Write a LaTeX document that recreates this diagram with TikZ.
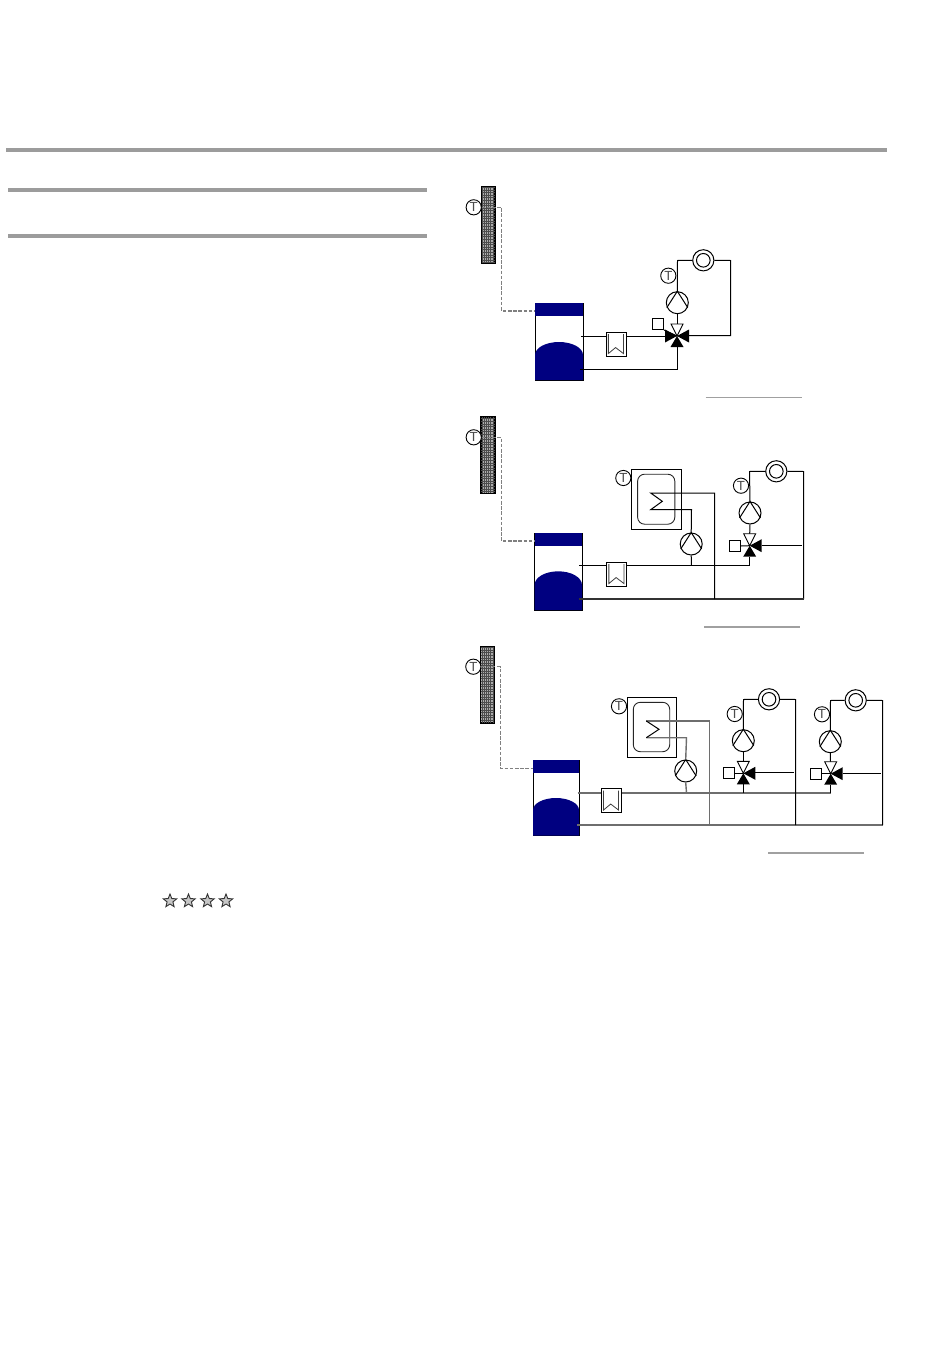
\documentclass[tikz,border=0pt]{standalone}
\usepackage{fontspec}
\setmainfont{Liberation Sans}
\usetikzlibrary{shapes.geometric}
\definecolor{tanknavy}{HTML}{000080}
\definecolor{rulegray}{HTML}{9C9C9C}
\definecolor{pipegray}{HTML}{808080}
\definecolor{softgray}{HTML}{6E6E6E}
\tikzset{
  x=0.5pt,y=-0.5pt,
  pipe/.style={draw=black,line width=0.5pt},
  softpipe/.style={draw=softgray,line width=0.7pt},
  link/.style={draw=pipegray,line width=0.6pt,dash pattern=on 1.8pt off 0.8pt},
  headrule/.style={draw=rulegray,line width=2pt},
  caprule/.style={draw=pipegray!75,line width=0.6pt},
  sensor/.style={circle,draw=black,fill=white,line width=0.45pt,minimum size=7.6pt,inner sep=0pt,text=black!70,font=\fontsize{6.6}{6.6}\selectfont},
  pumpsym/.style={circle,draw=black,fill=white,line width=0.5pt,minimum size=11pt,inner sep=0pt},
  radsym/.style={circle,draw=black,fill=white,line width=0.5pt,minimum size=10.6pt,inner sep=0pt},
  actuator/.style={rectangle,draw=black,fill=white,line width=0.45pt,minimum size=5.6pt,inner sep=0pt},
  hxbox/.style={rectangle,draw=black,fill=white,line width=0.45pt,minimum width=10.2pt,minimum height=12pt,inner sep=0pt},
  tankbody/.style={rectangle,draw=black,fill=white,line width=0.4pt,inner sep=0pt},
  panel/.style={rectangle,draw=black,fill=gray!65,line width=0.5pt,inner sep=0pt,minimum width=6.6pt,minimum height=38pt},
  dhwbox/.style={rectangle,draw=black,fill=white,line width=0.5pt,inner sep=0pt,minimum width=25pt,minimum height=30pt},
  dhwin/.style={rectangle,rounded corners=3.5pt,draw=black!85,line width=0.45pt,inner sep=0pt,minimum width=18.6pt,minimum height=25pt},
  starsym/.style={star,star points=5,star point ratio=2.3,draw=black!80,fill=gray!45,line width=0.45pt,minimum size=7pt,inner sep=0pt},
}
% name, x, y
\newcommand{\panelsym}[3]{%
  \node[panel] (#1) at (#2,#3) {};
  \draw[black!70,line width=0.14pt,xstep=1.1pt,ystep=1.3pt] (#1.south west) grid (#1.north east);
  \draw[black,line width=0.5pt] (#1.south west) rectangle (#1.north east);
}
% name, L, R, top, band bottom, dome side, dome top, bottom
\newcommand{\tanksym}[8]{%
  \pgfmathsetmacro{\tkw}{(#3-#2)*0.5}%
  \pgfmathsetmacro{\tkh}{(#8-#4)*0.5}%
  \pgfmathsetmacro{\tkcx}{(#2+#3)/2}%
  \pgfmathsetmacro{\tkcy}{(#4+#8)/2}%
  \pgfmathsetmacro{\tkrx}{\tkw/2}%
  \pgfmathsetmacro{\tkry}{(#6-#7)*0.5}%
  \node[tankbody,minimum width=\tkw pt,minimum height=\tkh pt] (#1) at (\tkcx,\tkcy) {};
  \fill[tanknavy] (#2,#4) rectangle (#3,#5);
  \fill[tanknavy] (#2,#6) arc[start angle=180,end angle=0,x radius=\tkrx pt,y radius=\tkry pt] -- (#3,#8) -- (#2,#8) -- cycle;
}
% name, x, y
\newcommand{\pumpsym}[3]{%
  \node[pumpsym] (#1) at (#2,#3) {};
  \draw[black,line width=0.5pt] (#1.205) -- (#1.north) -- (#1.335);
}
\newcommand{\radsym}[3]{%
  \node[radsym] (#1) at (#2,#3) {};
  \draw[black,line width=0.5pt] (#1.center) circle[radius=3.4pt];
}
\newcommand{\hxsym}[3]{%
  \node[hxbox] (#1) at (#2,#3) {};
  \draw[black!75,line width=0.4pt] ([xshift=1.4pt,yshift=-1.1pt]#1.north west) -- ([xshift=1.4pt,yshift=1.6pt]#1.south west)
     -- ([yshift=4.6pt,xshift=-0.3pt]#1.south) -- ([xshift=-1.7pt,yshift=1.6pt]#1.south east) -- ([xshift=-1.7pt,yshift=-1.1pt]#1.north east);
}
% name, x, y : valve body without left wedge
\newcommand{\valvesym}[3]{%
  \coordinate (#1) at (#2,#3);
  \draw[black,fill=white,line width=0.45pt] (#1) -- ++(-6,-12) -- ++(12,0) -- cycle;
  \fill[black] (#1) -- ++(12,-6.5) -- ++(0,13) -- cycle;
  \fill[black] (#1) -- ++(-6.5,11) -- ++(13,0) -- cycle;
}
\newcommand{\leftwedge}[1]{\fill[black] (#1) -- ++(-12,-6.5) -- ++(0,13) -- cycle;}
\begin{document}
\begin{tikzpicture}
\useasboundingbox (0,0) rectangle (950,1370);
% header rules
\coordinate (hA) at (6,150);   \coordinate (hB) at (887,150);
\coordinate (hC) at (8,190);   \coordinate (hD) at (427,190);
\coordinate (hE) at (8,236);   \coordinate (hF) at (427,236);
\draw[headrule] (hA) -- (hB);
\draw[headrule] (hC) -- (hD);
\draw[headrule] (hE) -- (hF);
% rating stars
\node[starsym] (star1) at (170,901) {};
\node[starsym] (star2) at (188.5,901) {};
\node[starsym] (star3) at (207.5,901) {};
\node[starsym] (star4) at (226,901) {};

% ===== Diagram 1 =====
\panelsym{pa}{488.3}{225}
\tanksym{ta}{535}{583}{303}{316}{355}{342}{380}
\node[sensor] (tsa) at (473.7,207.3) {T};
\coordinate (la1) at (501.7,207.3);
\coordinate (la2) at (501.7,311);
\draw[link] (tsa.east) -- (la1) -- (la2) -- (ta.west |- la2);
\coordinate (aout) at (581,336.5);
\coordinate (aret) at (580,369.5);
\coordinate (acr) at (730.5,260.5);
\coordinate (acb) at (730.5,335.5);
\coordinate (arc) at (677.5,369.5);
\coordinate (ara) at (677.5,260.5);
\pumpsym{pua}{677.3}{302.7}
\radsym{raa}{703.3}{260.3}
\valvesym{va}{677}{336}
\leftwedge{va}
\draw[pipe] (pua.north) -- (ara) -- (raa.west);
\draw[pipe] (raa.east) -- (acr) -- (acb) -- (689,335.5);
\draw[pipe] (pua.south) -- (677.3,324);
\draw[pipe] (aret) -- (arc) -- (677.5,347);
\hxsym{hxa}{616.2}{344.3}
\draw[pipe] (aout) -- (hxa.west |- aout);
\draw[pipe] (hxa.east |- aout) -- (665,336.5);
\node[actuator] (aca) at (658,324) {};
\draw[pipe] (aca.south east) -- (va);
\node[sensor] (tsa2) at (668.3,275.7) {T};
\coordinate (ca1) at (705.7,397.7);
\coordinate (ca2) at (801.7,397.7);
\draw[caprule] (ca1) -- (ca2);

% ===== Diagram 2 =====
\panelsym{pb}{488}{455.3}
\tanksym{tb}{534.5}{582}{533}{546}{585}{571.3}{610}
\node[sensor] (tsb) at (473.7,437.3) {T};
\coordinate (lb1) at (501.3,437.3);
\coordinate (lb2) at (501.3,541);
\draw[link] (tsb.east) -- (lb1) -- (lb2) -- (tb.west |- lb2);
\node[dhwbox] (dhb) at (656.5,499.3) {};
\node[dhwin] (dhbi) at (656.2,499.2) {};
\node[sensor] (tsb3) at (623.3,478) {T};
\pumpsym{pub}{750}{513}
\radsym{rab}{776.3}{471.3}
\pumpsym{puc}{691.2}{544}
\valvesym{vb}{749.7}{545.7}
\coordinate (bout) at (579.3,565.5);
\coordinate (bret) at (579.3,599);
\coordinate (bv) at (749.5,565.5);
\coordinate (bra) at (749.5,471.5);
\coordinate (brr) at (803.5,471.5);
\coordinate (brb) at (803.5,599);
\coordinate (bhot) at (714.5,493);
\coordinate (bhr) at (714.5,599);
\coordinate (bcl1) at (650.7,493);
\coordinate (bcl2) at (662.3,501.3);
\coordinate (bcl3) at (650.7,509.7);
\coordinate (bcl4) at (691.5,509.7);
\coordinate (bj) at (691.5,565.5);
\draw[pipe] (pub.north) -- (bra) -- (rab.west);
\draw[pipe] (rab.east) -- (brr) -- (brb);
\draw[softpipe,draw=black!80] (brb) -- (bret);
\draw[pipe] (pub.south) -- (749.7,533.7);
\draw[pipe] (bout) -- (bv) -- (749.5,556.7);
\draw[pipe] (761.7,545.5) -- (801.7,545.5);
\draw[pipe] (bhr) -- (bhot) -- (bcl1) -- (bcl2) -- (bcl3) -- (bcl4) -- (puc.north);
\draw[pipe] (puc.south) -- (bj);
\hxsym{hxb}{616.7}{574.3}
\node[actuator] (acb2) at (735,546) {};
\draw[pipe] (acb2.east) -- (vb);
\node[sensor] (tsb2) at (741,485.7) {T};
\coordinate (cb1) at (704.3,627);
\coordinate (cb2) at (800,627);
\draw[caprule] (cb1) -- (cb2);

% ===== Diagram 3 =====
\panelsym{pc}{487.3}{684.5}
\tanksym{tc}{533}{579}{760}{772.7}{810}{798}{835.7}
\node[sensor] (tsc) at (473.3,666.7) {T};
\coordinate (lc1) at (500.3,666.7);
\coordinate (lc2) at (500.3,768.3);
\draw[link] (tsc.east) -- (lc1) -- (lc2) -- (tc.west |- lc2);
\node[dhwbox,minimum width=24.6pt] (dhc) at (652,727.3) {};
\node[dhwin,minimum width=18.2pt,minimum height=24.7pt] (dhci) at (651.5,727) {};
\node[sensor] (tsc3) at (619,706.3) {T};
\pumpsym{pud}{743.3}{740.7}
\radsym{rad}{769}{699.3}
\pumpsym{pue}{830.3}{741.7}
\radsym{rae}{855.7}{700.3}
\pumpsym{puf}{685.7}{771}
\valvesym{vd}{743.3}{773.3}
\valvesym{ve}{830.7}{773.7}
\coordinate (cout) at (577.7,793);
\coordinate (cret) at (577,825);
\coordinate (cend) at (830.5,793);
\coordinate (rend) at (882.5,825);
\coordinate (chot) at (709.5,721);
\coordinate (chr) at (709.5,825);
\coordinate (ccl1) at (646.3,721);
\coordinate (ccl2) at (659,729.3);
\coordinate (ccl3) at (646.3,737.7);
\coordinate (ccl4) at (686.5,737.7);
\coordinate (cj) at (686.5,793);
\coordinate (dra) at (743.5,699.5);
\coordinate (drr) at (795.5,699.5);
\coordinate (drb) at (795.5,825);
\coordinate (dj) at (743.5,793);
\coordinate (era) at (830.5,700.5);
\coordinate (err) at (882.5,700.5);
\draw[softpipe] (cret) -- (rend);
\draw[softpipe] (cout) -- (cend);
\draw[softpipe] (chr) -- (chot) -- (ccl1);
\draw[softpipe] (ccl3) -- (ccl4) -- (puf.north);
\draw[pipe] (ccl1) -- (ccl2) -- (ccl3);
\draw[softpipe] (puf.south) -- (cj);
\draw[pipe] (cend) -- (830.5,785);
\draw[pipe] (pud.north) -- (dra) -- (rad.west);
\draw[pipe] (rad.east) -- (drr) -- (drb);
\draw[pipe] (pud.south) -- (743.3,761);
\draw[pipe] (dj) -- (743.5,784);
\draw[pipe] (755,772.5) -- (794,772.5);
\draw[pipe] (pue.north) -- (era) -- (rae.west);
\draw[pipe] (rae.east) -- (err) -- (rend);
\draw[pipe] (pue.south) -- (830.5,761.5);
\draw[pipe] (842.7,773.5) -- (881.3,773.5);
\hxsym{hxc}{611.3}{800.8}
\node[actuator] (acd) at (729,773.3) {};
\draw[pipe] (acd.east) -- (vd);
\node[actuator] (ace) at (815.7,773.7) {};
\draw[pipe] (ace.east) -- (ve);
\node[sensor] (tsd) at (734.7,714) {T};
\node[sensor] (tse) at (822,714.3) {T};
\coordinate (cc1) at (768.3,853);
\coordinate (cc2) at (864.3,853);
\draw[caprule] (cc1) -- (cc2);
\end{tikzpicture}
\end{document}
